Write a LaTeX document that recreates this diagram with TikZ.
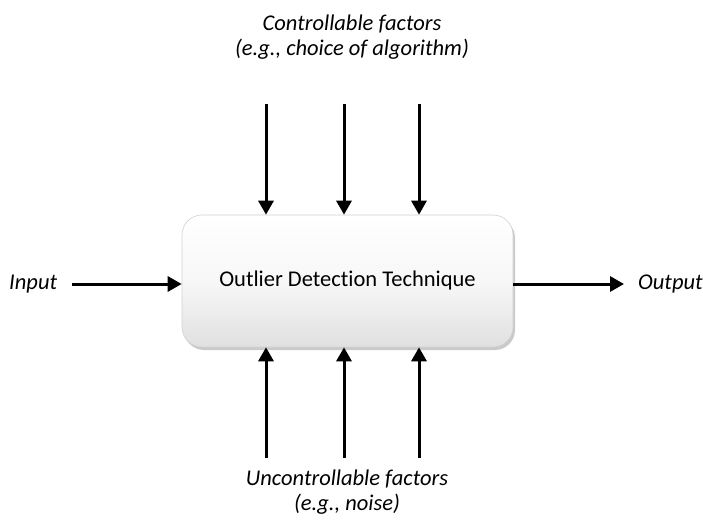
\documentclass[tikz,border=0pt]{standalone}
\usepackage{fontspec}
\setmainfont[Ligatures=NoCommon]{Carlito}
\usetikzlibrary{arrows.meta,shadows,shadings}
\begin{document}
\begin{tikzpicture}[x=1pt,y=-1pt,
  flow/.style={line width=3pt,-{Triangle[length=14pt,width=15pt]}},
  label/.style={font=\fontsize{22.5}{25.5}\selectfont\itshape,align=center,inner sep=0pt},
  procbox/.style={rounded corners=20pt,draw=black!18,line width=0.6pt,
    top color=white,bottom color=black!12,middle color=black!3,
    drop shadow={shadow xshift=2pt,shadow yshift=-3pt,opacity=0.35,fill=black!60},
    font=\fontsize{22.5}{26}\selectfont,minimum width=331pt,minimum height=132pt,inner sep=0pt}]
\useasboundingbox (0,0) rectangle (703,521);
\node[procbox] (box) at (347.5,281) {Outlier Detection Technique};
% labels
\node[label] (ctrl) at (352,37) {Controllable factors\\(e.g., choice of algorithm)};
\node[label] (unctrl) at (347,492) {Uncontrollable factors\\(e.g., noise)};
\node[label,anchor=west] (in) at (9,284) {Input};
\node[label,anchor=west] (out) at (638,284) {Output};
% arrow tails
\coordinate (t1) at (266,104);
\coordinate (t2) at (344,104);
\coordinate (t3) at (419,104);
\coordinate (b1) at (266,458);
\coordinate (b2) at (344,458);
\coordinate (b3) at (419,458);
\coordinate (inS) at (72,284);
\coordinate (outE) at (624,284);
\foreach \c in {t1,t2,t3}{\draw[flow] (\c) -- (\c |- box.north);}
\foreach \c in {b1,b2,b3}{\draw[flow] (\c) -- (\c |- box.south);}
\draw[flow] (inS) -- (box.west |- inS);
\draw[flow] (box.east |- outE) -- (outE);
\end{tikzpicture}
\end{document}
